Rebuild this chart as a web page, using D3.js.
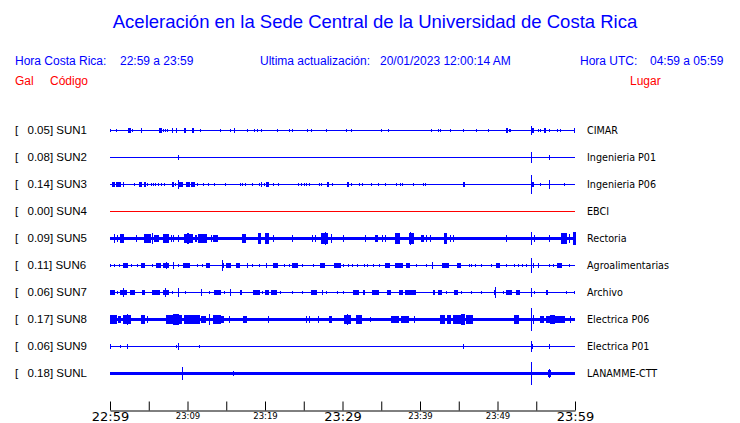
<!DOCTYPE html>
<html><head><meta charset="utf-8">
<script src="https://cdn.jsdelivr.net/npm/d3@7"></script>
<style>body{margin:0;background:#fff}svg{display:block}</style>
</head><body>
<script>
const stations = ["SUN1","SUN2","SUN3","SUN4","SUN5","SUN6","SUN7","SUN8","SUN9","SUNL"];
const peaks = [0.05,0.08,0.14,0.00,0.09,0.11,0.06,0.17,0.06,0.18];
const places = ["CIMAR","Ingenieria P01","Ingenieria P06","EBCI","Rectoria","Agroalimentarias","Archivo","Electrica P06","Electrica P01","LANAMME-CTT"];
const noise = [0.04,0.04,0.04,0.04,0.13,0.04,0.04,0.13,0.04,0.13];
const tickLabels = ["22:59","","23:09","","23:19","","23:29","","23:39","","23:49","","23:59"];
// events: [start minute after 22:59, end minute, relative amplitude]
const ev1 = [[0.1,0.1,.1],[0.9,0.9,.1],[2.4,2.6,.12],[2.9,2.9,.1],[4.0,4.1,.15],[6.4,6.7,.12],[6.9,6.9,.1],[7.1,7.1,.1],[7.4,7.4,.1],[8.0,8.1,.12],[8.6,8.6,.12],[9.6,9.7,.12],[10.7,10.8,.12],[11.7,11.7,.1],[14.3,14.3,.1],[15.6,15.6,.1],[16.0,16.1,.12],[17.8,17.8,.1],[18.6,18.6,.08],[19.0,19.0,.1],[19.5,19.5,.1],[21.6,21.6,.1],[23.1,23.1,.08],[23.5,23.5,.1],[25.5,25.5,.08],[26.0,26.0,.1],[27.9,27.9,.1],[30.5,30.5,.08],[31.1,31.1,.1],[35.0,35.0,.1],[35.9,35.9,.08],[41.5,41.5,.1],[42.4,42.4,.1],[42.7,42.7,.08],[43.9,43.9,.1],[45.6,45.6,.1],[47.3,47.3,.08],[48.8,48.8,.1],[51.1,51.1,.12],[51.3,51.3,.12],[51.5,51.7,.1],[54.4,54.4,.3],[54.5,54.6,.12],[55.3,55.3,.1],[55.5,55.5,.1],[56.0,56.2,.12],[56.7,56.7,.1],[57.7,57.7,.1],[58.1,58.1,.1],[59.9,59.9,.12]];
const ev2 = [[8.9,8.9,.15],[54.4,54.4,.42],[56.7,56.7,.15]];
const ev3 = [[0.3,0.6,.12],[0.9,1.3,.12],[1.7,1.7,.12],[3.2,3.2,.06],[3.8,4.0,.12],[4.4,4.6,.12],[4.9,4.9,.1],[5.4,5.4,.1],[5.6,5.6,.1],[5.9,5.9,.1],[6.2,6.2,.1],[6.7,6.7,.08],[7.0,7.0,.1],[8.1,8.2,.12],[8.4,8.5,.1],[8.8,9.3,.15],[8.9,8.9,.3],[9.9,10.2,.12],[10.5,10.9,.12],[11.3,11.3,.08],[12.0,12.0,.06],[12.7,12.7,.1],[13.5,13.5,.08],[14.9,14.9,.1],[16.8,16.8,.1],[17.1,17.1,.08],[17.5,17.5,.1],[18.4,18.4,.1],[19.3,19.3,.1],[19.6,19.6,.12],[19.9,19.9,.1],[20.2,20.5,.12],[21.1,21.1,.06],[21.8,21.8,.08],[24.3,24.3,.1],[24.7,24.7,.1],[25.1,25.1,.1],[25.3,25.3,.1],[25.8,25.8,.08],[27.0,27.0,.08],[27.3,27.3,.1],[28.0,28.2,.12],[28.7,28.7,.08],[30.6,30.8,.12],[31.1,31.1,.08],[32.2,32.2,.08],[32.6,32.6,.06],[33.7,33.7,.08],[34.7,34.7,.1],[35.6,35.6,.1],[37.0,37.0,.1],[37.5,37.5,.1],[37.8,37.8,.06],[39.2,39.2,.1],[40.4,40.4,.06],[40.7,40.7,.08],[45.6,45.8,.12],[54.4,54.4,.72],[54.5,54.6,.12],[55.5,55.5,.08],[56.7,56.7,.3],[58.6,58.6,.1]];
const ev4 = [];
const ev5 = [[0.6,0.6,.3],[1.0,1.0,.25],[1.3,1.7,.3],[3.4,3.4,.22],[4.4,5.2,.3],[5.5,5.5,.38],[5.8,6.2,.25],[6.9,7.5,.28],[7.9,7.9,.22],[8.2,8.2,.22],[8.9,8.9,.22],[9.6,10.6,.3],[10.0,10.1,.38],[11.0,11.0,.22],[11.2,11.2,.22],[11.4,12.3,.28],[12.5,12.5,.3],[13.1,13.1,.2],[13.3,13.3,.2],[13.5,13.9,.22],[17.1,17.5,.28],[19.1,19.4,.35],[20.0,20.5,.35],[21.1,21.1,.22],[23.6,23.6,.22],[26.1,26.1,.2],[26.5,26.5,.2],[27.3,28.1,.35],[27.8,27.8,.45],[28.6,28.6,.3],[30.1,30.1,.2],[33.0,33.0,.2],[34.3,34.5,.25],[35.2,35.2,.2],[35.5,35.5,.2],[36.9,37.4,.35],[38.6,39.1,.35],[38.8,38.8,.45],[40.2,40.4,.25],[40.8,40.8,.2],[41.3,41.3,.2],[43.1,43.4,.38],[43.9,43.9,.22],[44.3,44.3,.2],[51.1,51.1,.2],[54.4,54.4,.46],[54.8,54.8,.22],[56.7,56.7,.2],[58.2,58.9,.35],[59.3,59.3,.3],[59.8,60,.45]];
const ev6 = [[0.1,0.1,.1],[0.6,0.6,.08],[1.2,1.2,.1],[1.8,2.3,.12],[2.8,2.8,.1],[3.5,3.5,.1],[4.0,4.5,.12],[5.5,5.5,.08],[6.0,6.5,.12],[6.9,7.6,.15],[7.3,7.3,.25],[8.2,8.2,.23],[8.8,8.8,.1],[9.5,10.3,.12],[11.3,11.3,.08],[11.9,11.9,.1],[12.5,12.9,.12],[14.5,14.5,.4],[14.6,14.7,.15],[15.0,15.5,.12],[16.3,16.7,.12],[17.7,17.7,.12],[18.4,18.4,.1],[19.3,19.3,.1],[20.2,20.2,.12],[21.1,21.6,.12],[22.5,22.5,.1],[23.1,23.1,.08],[23.6,24.2,.12],[24.9,24.9,.08],[26.2,26.2,.1],[27.2,27.7,.12],[29.0,29.7,.12],[30.1,30.1,.1],[30.8,30.8,.08],[31.3,31.3,.1],[31.9,31.9,.1],[32.8,32.8,.08],[33.2,33.2,.1],[34.0,34.0,.1],[34.8,34.8,.1],[35.6,36.1,.12],[36.8,37.2,.12],[37.4,37.8,.12],[38.3,38.6,.12],[39.6,39.6,.1],[40.9,40.9,.1],[41.6,41.6,.23],[42.9,43.7,.12],[44.9,45.2,.12],[46.4,46.4,.08],[46.7,46.7,.08],[47.1,47.1,.1],[47.9,47.9,.1],[49.2,49.2,.08],[49.9,50.3,.12],[51.2,51.2,.1],[52.2,52.2,.08],[52.7,52.7,.1],[53.2,53.2,.08],[53.7,53.7,.08],[54.4,54.4,.54],[54.6,54.7,.15],[55.3,55.3,.12],[56.7,56.7,.1],[57.2,57.2,.1],[57.8,58.3,.12],[59.3,59.3,.1]];
const ev7 = [[0.1,0.6,.12],[1.0,1.0,.1],[1.4,2.1,.12],[1.7,1.7,.3],[2.6,3.2,.12],[4.2,4.5,.12],[5.5,6.4,.12],[6.9,7.6,.15],[7.2,7.2,.3],[8.0,8.0,.1],[8.9,8.9,.3],[9.7,9.7,.06],[11.8,11.8,.23],[12.9,12.9,.08],[13.5,14.2,.12],[14.8,14.8,.08],[15.5,15.5,.2],[16.8,17.0,.12],[18.5,19.3,.12],[19.7,19.7,.1],[20.1,20.4,.12],[20.9,21.5,.12],[22.0,22.0,.08],[23.6,23.6,.08],[24.9,24.9,.1],[26.0,26.7,.12],[27.4,27.4,.15],[27.9,27.9,.1],[29.3,29.3,.1],[30.1,30.1,.08],[31.4,32.0,.15],[32.7,32.9,.12],[33.9,34.6,.12],[35.8,36.2,.15],[37.3,37.8,.12],[38.1,39.4,.12],[41.7,41.9,.15],[42.4,42.8,.12],[43.4,43.4,.08],[44.5,44.8,.15],[45.4,45.4,.1],[46.7,46.7,.1],[47.9,47.9,.1],[49.7,49.7,.38],[49.6,49.8,.15],[50.8,50.8,.08],[51.2,51.8,.12],[52.5,52.9,.15],[54.4,54.4,.27],[54.8,54.8,.1],[56.3,56.4,.15],[58.9,58.9,.1],[59.9,59.9,.08]];
const ev8 = [[0.0,0.9,.3],[1.1,1.3,.25],[1.7,2.6,.3],[2.2,2.3,.4],[4.1,4.5,.3],[4.8,4.8,.2],[7.3,8.0,.3],[8.2,8.8,.35],[8.9,9.2,.28],[9.6,10.5,.3],[10.6,11.6,.3],[11.8,12.3,.25],[12.8,12.8,.38],[13.3,14.2,.3],[14.4,14.6,.22],[15.4,15.4,.2],[17.2,17.6,.25],[20.4,20.4,.2],[25.3,25.3,.2],[25.8,25.8,.2],[26.9,26.9,.2],[28.3,28.6,.22],[30.3,31.0,.3],[30.6,30.6,.38],[31.8,32.5,.3],[33.6,33.6,.18],[36.3,37.2,.25],[37.6,38.5,.25],[39.3,39.3,.2],[42.6,43.2,.28],[43.5,43.9,.3],[44.3,45.2,.3],[45.4,45.7,.38],[46.0,46.8,.3],[52.2,52.7,.3],[54.4,54.4,.85],[54.6,54.6,.3],[55.5,55.9,.22],[56.3,58.1,.22],[56.9,57.3,.3],[58.3,58.6,.22],[59.4,59.4,.2]];
const ev9 = [[0.1,0.1,.12],[1.4,1.4,.1],[2.2,2.2,.12],[8.6,8.6,.1],[8.9,8.9,.2],[11.5,11.5,.1],[45.6,45.6,.12],[54.4,54.4,.38],[54.5,54.5,.12],[56.7,56.7,.15]];
const evL = [[9.3,9.3,.46],[15.9,15.9,.18],[54.4,54.4,.85],[56.7,56.7,.3],[56.6,56.8,.2]];
const eventSets = [ev1,ev2,ev3,ev4,ev5,ev6,ev7,ev8,ev9,evL];

const W = 740, H = 423;
const svg = d3.select("body").append("svg").attr("width", W).attr("height", H);
const BLUE = "#0000ff", RED = "#ff0000";
const sans = "'Liberation Sans', Arial, Helvetica, sans-serif";
const dv = "'DejaVu Sans', sans-serif";

svg.append("text").attr("x", 375).attr("y", 28).attr("text-anchor", "middle")
  .attr("font-family", sans).attr("font-size", 18.5).attr("fill", BLUE)
  .text("Aceleración en la Sede Central de la Universidad de Costa Rica");

const header = [
  [15, 65, "Hora Costa Rica:", BLUE],[120, 65, "22:59 a 23:59", BLUE],
  [260, 65, "Ultima actualización:", BLUE],[380, 65, "20/01/2023 12:00:14 AM", BLUE],
  [580, 65, "Hora UTC:", BLUE],[650, 65, "04:59 a 05:59", BLUE],
  [15, 85, "Gal", RED],[50, 85, "Código", RED],[630, 85, "Lugar", RED]
];
svg.selectAll("text.hdr").data(header).join("text").attr("class","hdr")
  .attr("x", d => d[0]).attr("y", d => d[1]).attr("fill", d => d[3])
  .attr("font-family", sans).attr("font-size", 12).text(d => d[2]);

const x = d3.scaleLinear().domain([0, 60]).range([110, 575]);
const y = d3.scaleBand().domain(stations).range([117, 387]);
const a = d3.scaleLinear().domain([0, 1]).range([0, 13]);

const rows = svg.selectAll("g.row").data(stations).join("g").attr("class","row")
  .attr("transform", d => `translate(0,${y(d) + y.bandwidth()/2})`);

rows.append("text").attr("x", 15).attr("y", 3.5).attr("font-family", sans).attr("font-size", 11.5)
  .attr("fill", "#000").text("[");
rows.append("text").attr("x", 27.5).attr("y", 3.5).attr("font-family", sans).attr("font-size", 11.5)
  .attr("fill", "#000").text((d,i) => `${peaks[i].toFixed(2)}] ${d}`);
rows.append("text").attr("x", 587).attr("y", 3.3).attr("font-family", dv).attr("font-size", 9.6)
  .attr("fill", "#000").text((d,i) => places[i]);

rows.each(function(d, i) {
  const g = d3.select(this).attr("shape-rendering", "crispEdges");
  const col = d === "SUN4" ? RED : BLUE;
  const h = Math.max(1, Math.round(2 * a(noise[i])));
  g.append("rect").attr("x", x(0)).attr("width", x(60) - x(0)).attr("y", -h/2).attr("height", h).attr("fill", col);
  g.selectAll("rect.ev").data(eventSets[i]).join("rect").attr("class","ev")
    .attr("x", e => x(e[0]) - 0.5)
    .attr("width", e => Math.max(1, x(e[1]) - x(e[0]) + 1))
    .attr("y", e => -a(e[2]) - 0.5)
    .attr("height", e => 2 * a(e[2]) + 1)
    .attr("fill", col);
});

const axis = d3.axisBottom(x).tickValues(d3.range(0, 61, 5))
  .tickSizeInner(-9).tickSizeOuter(0).tickFormat((d,i) => tickLabels[i]);
const ax = svg.append("g").attr("transform", "translate(0,410.5)").call(axis);
ax.select(".domain").attr("stroke", "#000");
ax.selectAll(".tick line").attr("stroke", "#000");
ax.selectAll(".tick text").attr("font-family", dv).attr("fill", "#000").attr("dy", null)
  .attr("y", d => d % 30 === 0 ? 10.5 : 8.5)
  .attr("font-size", d => d % 30 === 0 ? 13 : 8.5);
</script>
</body></html>
